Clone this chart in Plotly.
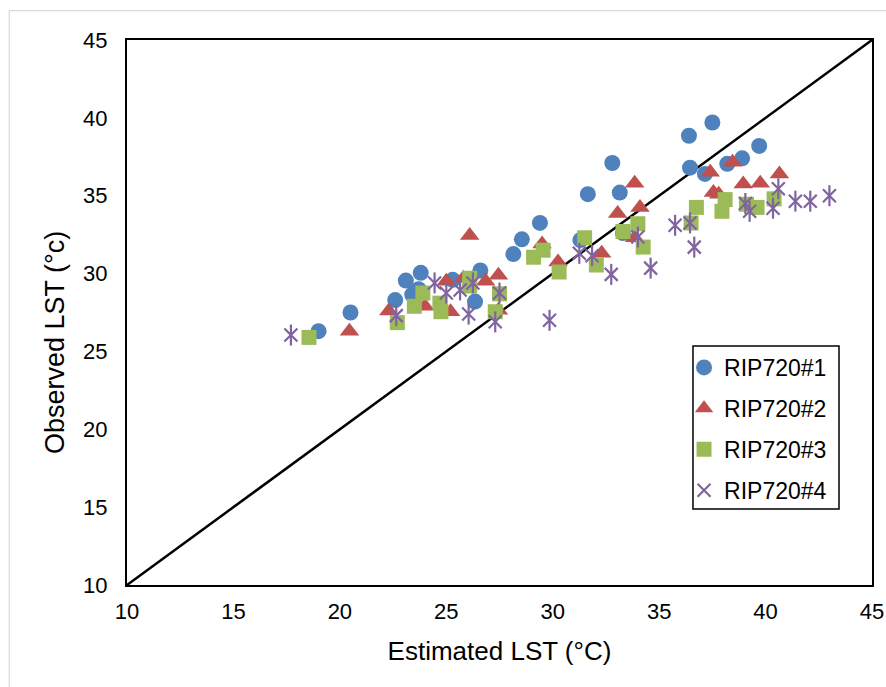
import plotly.graph_objects as go

# RIP720#1 (blue circles)
s1_x = [19.0, 20.5, 22.6, 23.1, 23.8, 23.4, 23.7, 25.3, 26.35, 26.6, 28.15, 28.55, 29.4,
        31.3, 31.65, 32.8, 33.15, 33.3, 36.4, 37.5, 36.45, 37.15, 38.2, 38.9, 39.7]
s1_y = [26.3, 27.5, 28.3, 29.55, 30.05, 28.65, 29.0, 29.6, 28.2, 30.2, 31.25, 32.2, 33.25,
        32.15, 35.1, 37.1, 35.2, 32.6, 38.85, 39.7, 36.8, 36.4, 37.05, 37.4, 38.2]

# RIP720#2 (red triangles)
s2_x = [20.45, 22.3, 24.0, 25.0, 25.2, 25.8, 26.1, 26.85, 27.45, 27.45, 29.5, 30.25,
        32.3, 33.05, 33.85, 34.1, 33.85, 37.4, 38.45, 37.55, 37.8, 38.95, 39.75, 40.65]
s2_y = [26.3, 27.6, 27.9, 29.5, 27.55, 29.7, 32.45, 29.5, 29.9, 27.65, 31.9, 30.75,
        31.3, 33.85, 35.8, 34.25, 32.3, 36.5, 37.15, 35.2, 35.1, 35.75, 35.8, 36.4]

# RIP720#3 (green squares)
s3_x = [18.55, 22.7, 23.5, 23.9, 24.7, 24.75, 26.1, 26.1, 27.5, 27.3, 29.1, 29.55, 30.3,
        31.5, 32.05, 33.3, 34.0, 34.25, 36.5, 36.75, 37.95, 38.1, 39.1, 39.6, 40.4]
s3_y = [25.9, 26.85, 27.9, 28.75, 28.1, 27.55, 29.7, 29.2, 28.7, 27.55, 31.05, 31.5, 30.1,
        32.3, 30.55, 32.7, 33.2, 31.7, 33.25, 34.25, 34.0, 34.75, 34.45, 34.25, 34.8]

# RIP720#4 (purple stars)
s4_x = [17.7, 22.65, 24.45, 25.0, 25.65, 26.25, 26.05, 27.5, 27.3, 29.85, 31.25, 31.85,
        32.75, 34.0, 34.6, 35.75, 36.45, 36.65, 39.05, 39.25, 40.35, 40.6, 41.4, 42.1, 43.0]
s4_y = [26.05, 27.3, 29.4, 28.75, 28.95, 29.4, 27.4, 28.75, 26.9, 27.0, 31.3, 31.15,
        29.95, 32.35, 30.35, 33.1, 33.25, 31.7, 34.5, 34.0, 34.2, 35.45, 34.65, 34.65, 35.0]

line_x = [10, 45]
line_y = [10, 45]
ticks = [10, 15, 20, 25, 30, 35, 40, 45]

FONT = "Arial, Liberation Sans, sans-serif"
BLUE, RED, GREEN, PURPLE = "#4F81BD", "#C0504D", "#9BBB59", "#8064A2"

fig = go.Figure()
fig.add_trace(go.Scatter(x=line_x, y=line_y, mode="lines", line=dict(color="black", width=2.5),
                         showlegend=False, hoverinfo="skip"))
fig.add_trace(go.Scatter(x=s1_x, y=s1_y, mode="markers", name="RIP720#1", legendgroup="1",
                         marker=dict(symbol="circle", size=16, color=BLUE)))
fig.add_trace(go.Scatter(x=s2_x, y=s2_y, mode="markers", name="RIP720#2", legendgroup="2",
                         marker=dict(symbol="triangle-up", size=17, color=RED)))
fig.add_trace(go.Scatter(x=s3_x, y=s3_y, mode="markers", name="RIP720#3", legendgroup="3",
                         marker=dict(symbol="square", size=15, color=GREEN)))
fig.add_trace(go.Scatter(x=s4_x, y=s4_y, mode="markers", name="RIP720#4", legendgroup="4",
                         marker=dict(symbol="x-thin-open", size=13, color=PURPLE,
                                     line=dict(color=PURPLE, width=2.2))))
fig.add_trace(go.Scatter(x=s4_x, y=s4_y, mode="markers", name="RIP720#4", legendgroup="4",
                         showlegend=False,
                         marker=dict(symbol="line-ns-open", size=15, color=PURPLE,
                                     line=dict(color=PURPLE, width=2.2))))

axis_common = dict(range=[10, 45], tickvals=ticks, showgrid=False, zeroline=False,
                   showline=True, linecolor="black", linewidth=2, mirror=True, automargin=False,
                   ticks="", tickfont=dict(family=FONT, size=22, color="black"))

fig.update_layout(
    width=886, height=687,
    margin=dict(l=127, r=14, t=40, b=102),
    paper_bgcolor="white", plot_bgcolor="white",
    font=dict(family=FONT, color="black"),
    xaxis=dict(**axis_common, ticklabelstandoff=6,
               title=dict(text="Estimated LST (°C)", font=dict(family=FONT, size=26), standoff=18)),
    yaxis=dict(**axis_common, ticklabelstandoff=13),
    annotations=[dict(text="Observed LST (°c)", xref="paper", yref="paper",
                      x=-0.0966, y=0.444, xanchor="center", yanchor="middle",
                      textangle=-90, showarrow=False,
                      font=dict(family=FONT, size=27, color="black"))],
    legend=dict(x=0.7477, y=0.4385, xanchor="left", yanchor="top",
                borderwidth=0, bgcolor="rgba(0,0,0,0)",
                font=dict(family=FONT, size=23, color="black"),
                traceorder="grouped", tracegroupgap=8),
    shapes=[dict(type="rect", xref="paper", yref="paper",
                 x0=-0.158, x1=1.05, y0=-0.3, y1=1.054,
                 line=dict(color="#D9D9D9", width=1.2), fillcolor="rgba(0,0,0,0)", layer="below"),
            dict(type="rect", xref="paper", yref="paper",
                 x0=0.7597, x1=0.9557, y0=0.1394, y1=0.4385,
                 line=dict(color="black", width=1.5), fillcolor="white", layer="above")],
)

fig.write_html("out.html")
